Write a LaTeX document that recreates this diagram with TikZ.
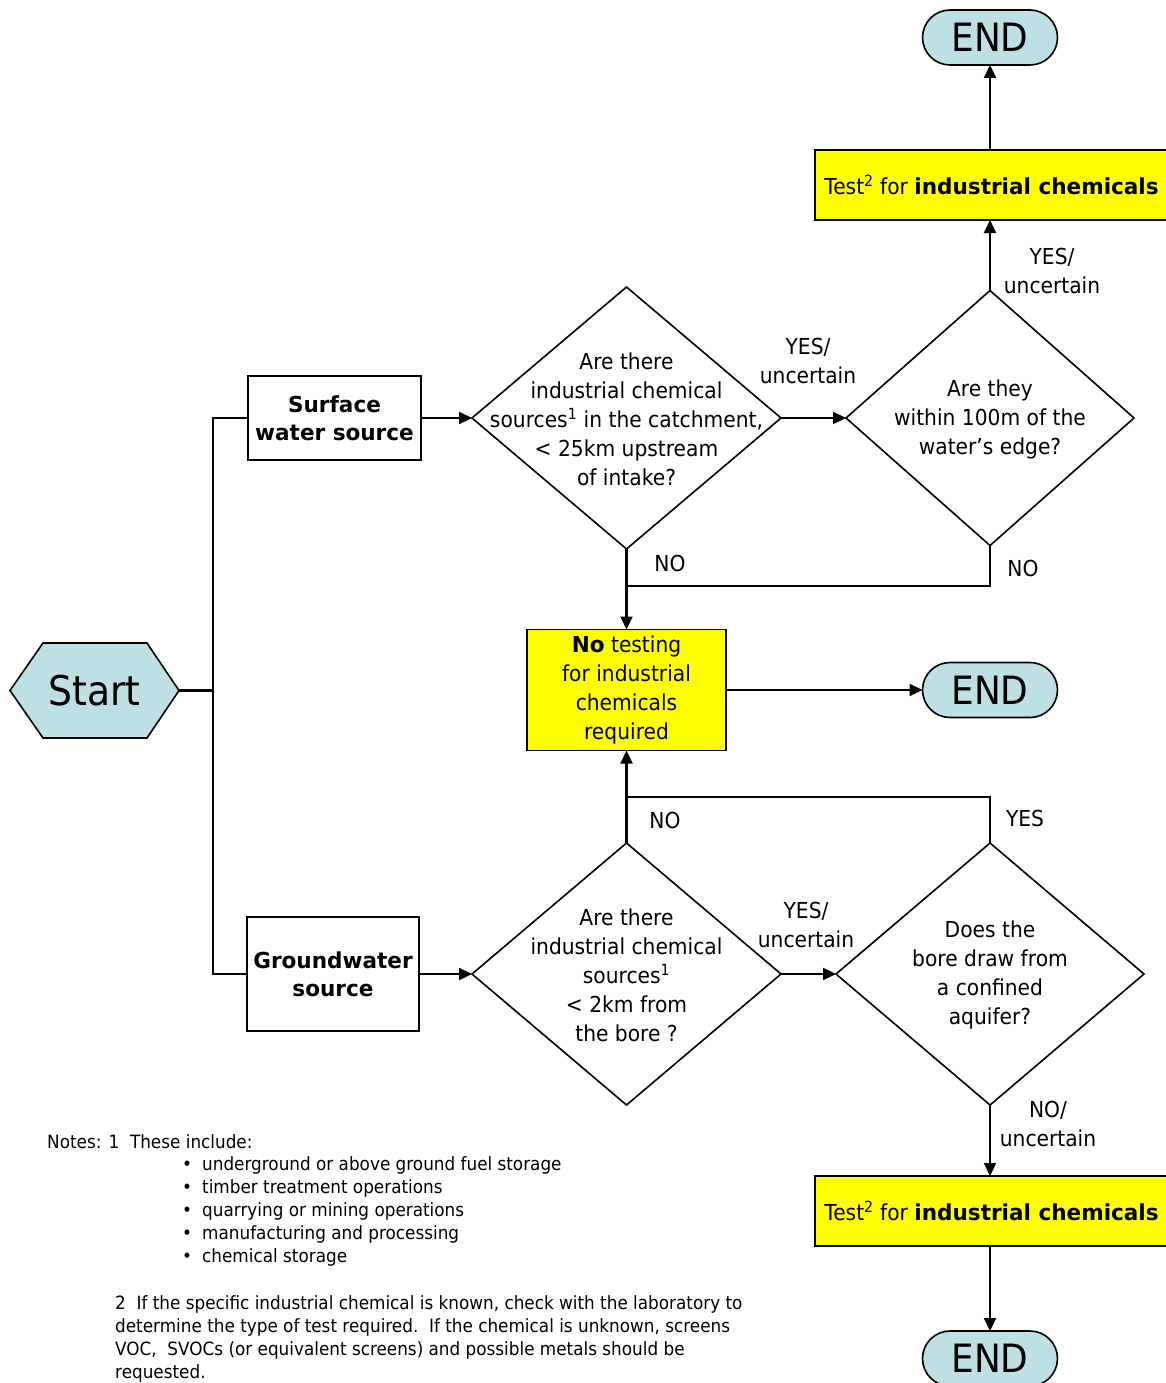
\documentclass[tikz,border=0pt]{standalone}
\usepackage{fontspec}
\setmainfont[FakeStretch=0.92,BoldFeatures={FakeStretch=0.98}]{DejaVu Sans}
\usetikzlibrary{shapes.geometric,shapes.misc,arrows.meta,backgrounds}

\definecolor{capblue}{HTML}{BCE0E4}
\definecolor{boxyellow}{HTML}{FFFF00}

\tikzset{
  flow/.style={line width=2.2pt, -{Triangle[length=13pt,width=12pt]}},
  plain/.style={line width=2.2pt},
  txt/.style={font=\fontsize{22}{29}\selectfont, align=center, inner sep=0pt},
  dia/.style={shape=diamond, draw, line width=1.6pt, inner sep=0pt, outer sep=0pt},
  srcbox/.style={draw, line width=1.8pt, inner sep=0pt, outer sep=0pt,
    font=\bfseries\fontsize{22}{28}\selectfont, align=center},
  testbox/.style={draw, line width=1.8pt, fill=boxyellow, inner sep=0pt, outer sep=0pt,
    font=\fontsize{22}{29}\selectfont, align=center},
  endcap/.style={shape=rounded rectangle, draw, line width=1.6pt, fill=capblue,
    inner sep=0pt, outer sep=0pt, minimum width=135pt, minimum height=55pt,
    font=\fontsize{39}{39}\selectfont},
  note/.style={font=\fontsize{18.3}{23}\selectfont, inner sep=0pt, anchor=base west},
}

\begin{document}
\begin{tikzpicture}[x=1pt,y=-1pt]
\useasboundingbox (0,0) rectangle (1165,1383);

% start terminal (hexagon)
\node[inner sep=0pt, outer sep=0pt, minimum width=169pt, minimum height=95pt,
      font=\fontsize{41}{41}\selectfont] (start) at (94.5,690.5) {Start};
\begin{scope}[on background layer]
  \draw[line width=1.6pt, fill=capblue] (start.west)
    -- ([xshift=33pt]start.north west) -- ([xshift=-32pt]start.north east)
    -- (start.east) -- ([xshift=-32pt]start.south east)
    -- ([xshift=33pt]start.south west) -- cycle;
\end{scope}

% water sources
\node[srcbox, minimum width=173pt, minimum height=84pt] (sw) at (334.5,418) {Surface\\water source};
\node[srcbox, minimum width=172pt, minimum height=114pt] (gw) at (333,974) {Groundwater\\source};

% decisions
\node[dia, minimum width=309pt, minimum height=262pt] (d1) at (626.5,418) {};
\node[txt] at (626.5,419) {Are there\\industrial chemical\\sources\textsuperscript{1} in the catchment,\\< 25km upstream\\of intake?};

\node[dia, minimum width=288pt, minimum height=255pt] (d2) at (990,418) {};
\node[txt] at (990,419) {Are they\\within 100m of the\\water’s edge?};

\node[dia, minimum width=309pt, minimum height=262pt] (d3) at (626.5,974) {};
\node[txt] at (626.5,975) {Are there\\industrial chemical\\sources\textsuperscript{1}\\< 2km from\\the bore ?};

\node[dia, minimum width=308pt, minimum height=262pt] (d4) at (990,974) {};
\node[txt] at (990,975) {Does the\\bore draw from\\a confined\\aquifer?};

% outcomes
\node[testbox, minimum width=199pt, minimum height=121pt] (nobox) at (626.5,690)
  {\textbf{No} testing\\for industrial\\chemicals\\required};
\node[testbox, minimum width=353pt, minimum height=70pt] (t1) at (991.5,185)
  {Test\textsuperscript{2} for \textbf{industrial chemicals}};
\node[testbox, minimum width=353pt, minimum height=70pt] (t2) at (991.5,1211)
  {Test\textsuperscript{2} for \textbf{industrial chemicals}};

\node[endcap] (e1) at (990,37.5) {END};
\node[endcap] (e2) at (990,690) {END};
\node[endcap] (e3) at (990,1358.5) {END};

% junctions
\coordinate (split) at (213,690.5);
\coordinate (j1) at (626.5,586);
\coordinate (j2) at (626.5,797);

% connectors
\draw[plain] (start.east) -- (split);
\draw[plain] (split) |- (sw.west);
\draw[plain] (split) |- (gw.west);
\draw[flow] (sw.east) -- (d1.west);
\draw[flow] (gw.east) -- (d3.west);
\draw[flow] (d1.east) -- (d2.west);
\draw[flow] (d2.north) -- (d2.north |- t1.south);
\draw[flow] (d2.north |- t1.north) -- (e1.south);
\draw[flow] (d1.south) -- (nobox.north);
\draw[plain] (d2.south) |- (j1);
\draw[flow] (nobox.east) -- (e2.west);
\draw[flow] (d3.north) -- (nobox.south);
\draw[plain] (d4.north) |- (j2);
\draw[flow] (d3.east) -- (d4.west);
\draw[flow] (d4.south) -- (d4.south |- t2.north);
\draw[flow] (d4.south |- t2.south) -- (e3.north);

% branch labels
\node[txt] at (808,360.5) {YES/\\uncertain};
\node[txt] at (1052,270.5) {YES/\\uncertain};
\node[txt] at (670,563) {NO};
\node[txt] at (1023,568) {NO};
\node[txt] at (665,820) {NO};
\node[txt] at (1025,818) {YES};
\node[txt] at (806,925) {YES/\\uncertain};
\node[txt] at (1048,1123.5) {NO/\\uncertain};

% notes
\node[note] (n0) at (47,1148) {Notes: 1\ \ These include:};
\foreach \yy/\tx [count=\i] in {1170/underground or above ground fuel storage,
    1193/timber treatment operations,
    1216/quarrying or mining operations,
    1239/manufacturing and processing,
    1262/chemical storage}{
  \node[note] (b\i) at (182,\yy) {•};
  \node[note] (l\i) at (202,\yy) {\tx};
}
\node[note] (m1) at (115,1309) {2\ \ If the specific industrial chemical is known, check with the laboratory to};
\node[note] (m2) at (115,1332) {determine the type of test required.\ \ If the chemical is unknown, screens};
\node[note] (m3) at (115,1355) {VOC,\ \ SVOCs (or equivalent screens) and possible metals should be};
\node[note] (m4) at (115,1378) {requested.};
\end{tikzpicture}
\end{document}
